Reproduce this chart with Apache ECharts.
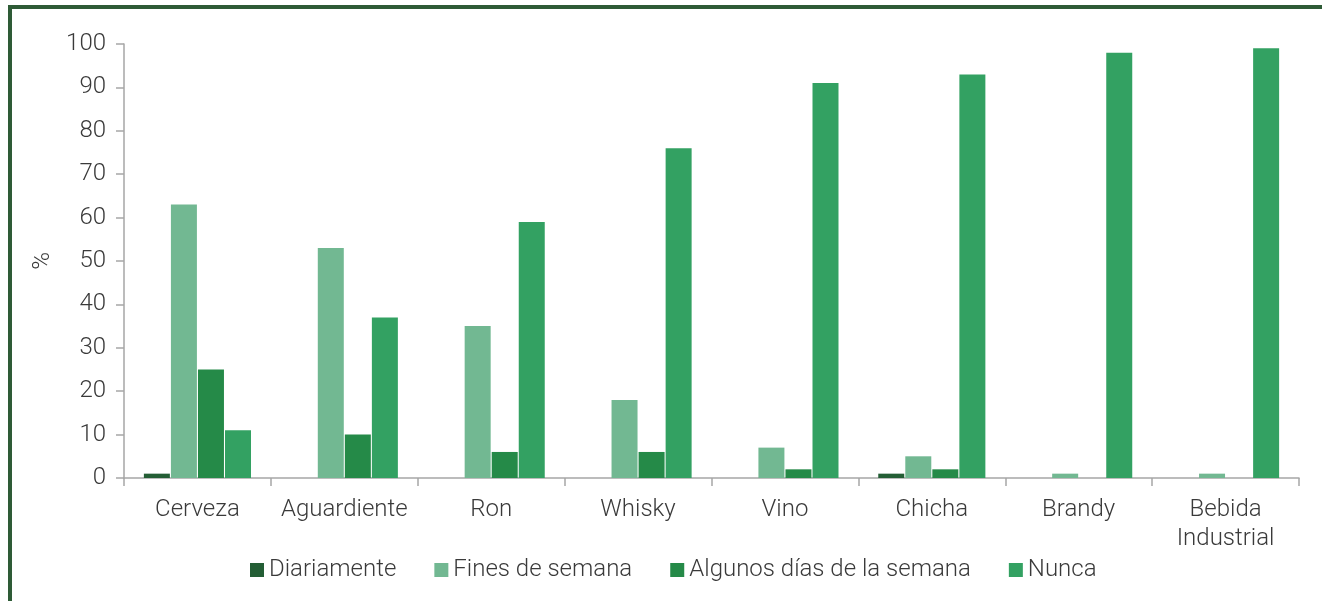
<!DOCTYPE html>
<html>
<head>
<meta charset="utf-8">
<script src="https://cdn.jsdelivr.net/npm/echarts@6/dist/echarts.min.js"></script>
<style>
  html, body { margin: 0; padding: 0; background: #fff; }
  #frame {
    position: absolute; left: 8px; top: 5px; width: 1314px; height: 596px;
    border-left: 4px solid #2e5b36; border-top: 4px solid #2e5b36;
    box-sizing: border-box;
  }
  #chart { position: absolute; left: 0; top: 0; width: 1322px; height: 601px; }
</style>
</head>
<body>
<div id="frame"></div>
<div id="chart"></div>
<script>
const categories = ['Cerveza', 'Aguardiente', 'Ron', 'Whisky', 'Vino', 'Chicha', 'Brandy', 'Bebida\nIndustrial'];
const diariamente = [1, 0, 0, 0, 0, 1, 0, 0];
const finesDeSemana = [63, 53, 35, 18, 7, 5, 1, 1];
const algunosDias = [25, 10, 6, 6, 2, 2, 0, 0];
const nunca = [11, 37, 59, 76, 91, 93, 98, 99];
const seriesNames = ['Diariamente', 'Fines de semana', 'Algunos días de la semana', 'Nunca'];
const seriesColors = ['#245e35', '#72b892', '#258a48', '#33a162'];

const font = 'Roboto, sans-serif';
const textColor = '#3a3a3a';
const fontSize = 24;

const chart = echarts.init(document.getElementById('chart'));
const seriesData = [diariamente, finesDeSemana, algunosDias, nunca];

chart.setOption({
  animation: false,
  textStyle: { fontFamily: font, fontWeight: 300 },
  grid: { left: 124, right: 23, top: 44, bottom: 123 },
  legend: {
    top: 553,
    left: 245,
    itemWidth: 14,
    itemHeight: 14,
    itemGap: 38,
    icon: 'rect',
    textStyle: { fontFamily: font, fontWeight: 300, fontSize: fontSize, color: textColor },
    data: seriesNames
  },
  xAxis: {
    type: 'category',
    data: categories,
    axisLine: { lineStyle: { color: '#a6a6a6', width: 1.5 } },
    axisTick: { show: true, interval: 0, length: 8, lineStyle: { color: '#a6a6a6', width: 1.5 } },
    axisLabel: { interval: 0, fontFamily: font, fontWeight: 300, fontSize: fontSize, color: textColor, margin: 17, lineHeight: 29 }
  },
  yAxis: {
    type: 'value',
    min: 0, max: 100, interval: 10,
    name: '%',
    nameLocation: 'middle',
    nameRotate: 90,
    nameGap: 68,
    nameTextStyle: { fontFamily: font, fontWeight: 300, fontSize: fontSize, color: textColor },
    splitLine: { show: false },
    axisLine: { show: true, lineStyle: { color: '#a6a6a6', width: 1.5 } },
    axisTick: { show: true, inside: false, length: 8, lineStyle: { color: '#a6a6a6', width: 1.5 } },
    axisLabel: { fontFamily: font, fontWeight: 300, fontSize: fontSize, color: textColor, margin: 18 }
  },
  series: seriesNames.map((name, i) => ({
    name,
    type: 'bar',
    data: seriesData[i],
    barWidth: 26,
    barGap: '4%',
    itemStyle: { color: seriesColors[i] }
  }))
});
</script>
</body>
</html>
